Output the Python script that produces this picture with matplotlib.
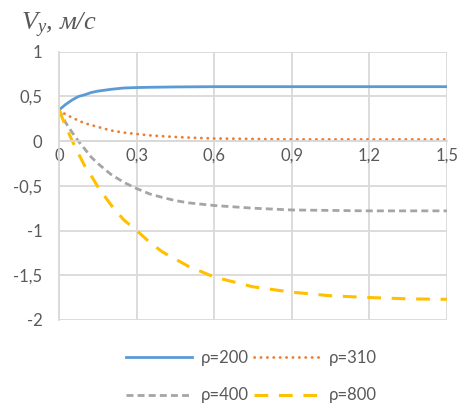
import numpy as np
import matplotlib
matplotlib.use('Agg')
import matplotlib.pyplot as plt

plt.rcParams['mathtext.fontset'] = 'custom'
plt.rcParams['mathtext.it'] = 'Liberation Serif:italic'
plt.rcParams['mathtext.rm'] = 'Liberation Serif'

# Скорость V_y для разных плотностей
t = [0, 0.025, 0.05, 0.075, 0.1, 0.125, 0.15, 0.2, 0.25, 0.3, 0.35, 0.4, 0.45, 0.5,
     0.6, 0.75, 0.9, 1.05, 1.2, 1.35, 1.5]
v200 = [0.35, 0.41, 0.46, 0.50, 0.52, 0.545, 0.56, 0.58, 0.595, 0.60, 0.603, 0.605, 0.607, 0.608,
        0.61, 0.61, 0.61, 0.61, 0.61, 0.61, 0.61]
v310 = [0.35, 0.30, 0.265, 0.23, 0.20, 0.18, 0.16, 0.12, 0.096, 0.08, 0.065, 0.055, 0.047, 0.04,
        0.03, 0.025, 0.02, 0.02, 0.02, 0.02, 0.02]
v400 = [0.35, 0.21, 0.10, 0.0, -0.09, -0.18, -0.25, -0.37, -0.46, -0.53, -0.59, -0.63, -0.665, -0.69,
        -0.72, -0.75, -0.77, -0.775, -0.78, -0.78, -0.78]
v800 = [0.35, 0.17, 0.01, -0.14, -0.28, -0.39, -0.51, -0.71, -0.88, -1.0, -1.13, -1.24, -1.32, -1.40,
        -1.52, -1.63, -1.69, -1.73, -1.75, -1.765, -1.77]

xticks = [0, 0.3, 0.6, 0.9, 1.2, 1.5]
yticks = [-2, -1.5, -1, -0.5, 0, 0.5, 1]

def fmt(v):
    return ('%g' % v).replace('.', ',')

fig = plt.figure(figsize=(4.65, 4.08), dpi=100)
ax = fig.add_axes([0.127, 0.216, 0.834, 0.657])

grid_c = '#d9d9d9'
txt_c = '#595959'

l200, = ax.plot(t, v200, color='#5b9bd5', lw=2.0, label='ρ=200')
l310, = ax.plot(t, v310, color='#ed7d31', lw=2.0, linestyle=(0, (0.1, 2.2)),
                dash_capstyle='round', label='ρ=310')
l400, = ax.plot(t, v400, color='#a5a5a5', lw=2.0, linestyle=(0, (2.5, 1.5)), label='ρ=400')
l800, = ax.plot(t, v800, color='#ffc000', lw=2.2, linestyle=(0, (4.5, 3.5)), label='ρ=800')

ax.set_xlim(0, 1.5)
ax.set_ylim(-2, 1)
ax.set_xticks(xticks)
ax.set_yticks(yticks)
ax.set_xticklabels([fmt(v) for v in xticks])
ax.set_yticklabels([fmt(v) for v in yticks])

ax.grid(True, color=grid_c, lw=1.3)
ax.set_axisbelow(True)
for s in ['top', 'right']:
    ax.spines[s].set_visible(False)
ax.spines['bottom'].set_position(('data', 0))
ax.spines['left'].set_color(grid_c)
ax.spines['bottom'].set_color(grid_c)
ax.spines['left'].set_linewidth(1.3)
ax.spines['bottom'].set_linewidth(1.3)
ax.tick_params(length=0, labelcolor=txt_c, labelsize=12)
ax.tick_params(axis='y', pad=12)
ax.tick_params(axis='x', pad=5)
for lb in ax.get_xticklabels() + ax.get_yticklabels():
    lb.set_family('Lato')

fig.text(0.045, 0.925, r'$V_y$, м/с', family='Liberation Serif', style='italic',
         fontsize=19, color=txt_c, ha='left', va='baseline')

# порядок по строкам: 200, 310 / 400, 800
leg = fig.legend([l200, l400, l310, l800], ['ρ=200', 'ρ=400', 'ρ=310', 'ρ=800'],
                 loc='center', bbox_to_anchor=(0.54, 0.077), ncol=2, frameon=False,
                 handlelength=4.0, columnspacing=0.3, handletextpad=0.5,
                 labelspacing=1.3, prop={'family': 'Lato', 'size': 12})
for tx in leg.get_texts():
    tx.set_color(txt_c)

fig.savefig('out.png', dpi=100)
